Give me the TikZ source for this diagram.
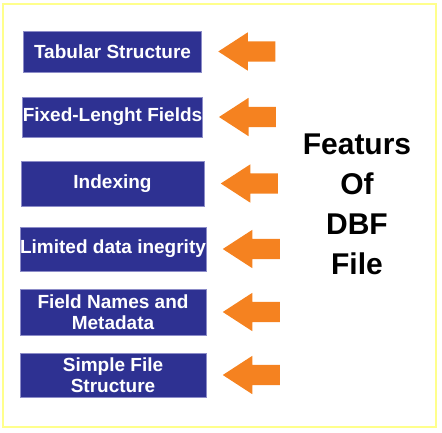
\documentclass[tikz,border=0pt]{standalone}
\usepackage{fontspec}
\setmainfont{Liberation Sans}
\usetikzlibrary{positioning,shapes.arrows}

\definecolor{featblue}{RGB}{46,49,146}
\definecolor{featedge}{RGB}{140,140,200}
\definecolor{featorange}{RGB}{245,130,32}
\definecolor{frameyellow}{RGB}{255,255,140}

\begin{document}
\begin{tikzpicture}[
    x=1pt, y=-1pt,
    featbox/.style={draw=featedge, line width=0.8pt, fill=featblue, text=white, align=center,
        inner sep=0pt, minimum width=186pt, minimum height=44pt,
        font=\fontsize{19}{21}\selectfont\bfseries},
    featarrow/.style={single arrow, shape border rotate=180, fill=featorange, draw=none,
        inner xsep=0pt, inner ysep=10pt, minimum height=57pt, minimum width=38pt,
        single arrow head extend=9pt, single arrow tip angle=66, right=16pt of #1},
    titletext/.style={align=center, inner sep=0pt, font=\fontsize{30}{40}\selectfont\bfseries}
]
    \useasboundingbox (0,0) rectangle (442,432);
    \draw[frameyellow, line width=1.5pt] (3,4) rectangle (436,427);

    \node[featbox, minimum width=178pt, minimum height=41pt] (tab) at (112.5,51.5) {Tabular Structure};
    \node[featbox, minimum width=179pt, minimum height=40pt] (fixed) at (112.5,117) {Fixed-Lenght Fields};
    \node[featbox, minimum width=183pt, minimum height=45pt] (index) at (112.5,183.5) {Indexing};
    \node[featbox] (integrity) at (113,249) {Limited data inegrity};
    \node[featbox, minimum height=46pt] (meta) at (113,312) {Field Names and\\Metadata};
    \node[featbox] (simple) at (113,375) {Simple File\\Structure};

    \node[featarrow=tab] (arr1) {};
    \node[featarrow=fixed] (arr2) {};
    \node[featarrow=index] (arr3) {};
    \node[featarrow=integrity] (arr4) {};
    \node[featarrow=meta] (arr5) {};
    \node[featarrow=simple] (arr6) {};

    \node[titletext] (title) at (357,204) {Featurs\\Of\\DBF\\File};
\end{tikzpicture}
\end{document}
